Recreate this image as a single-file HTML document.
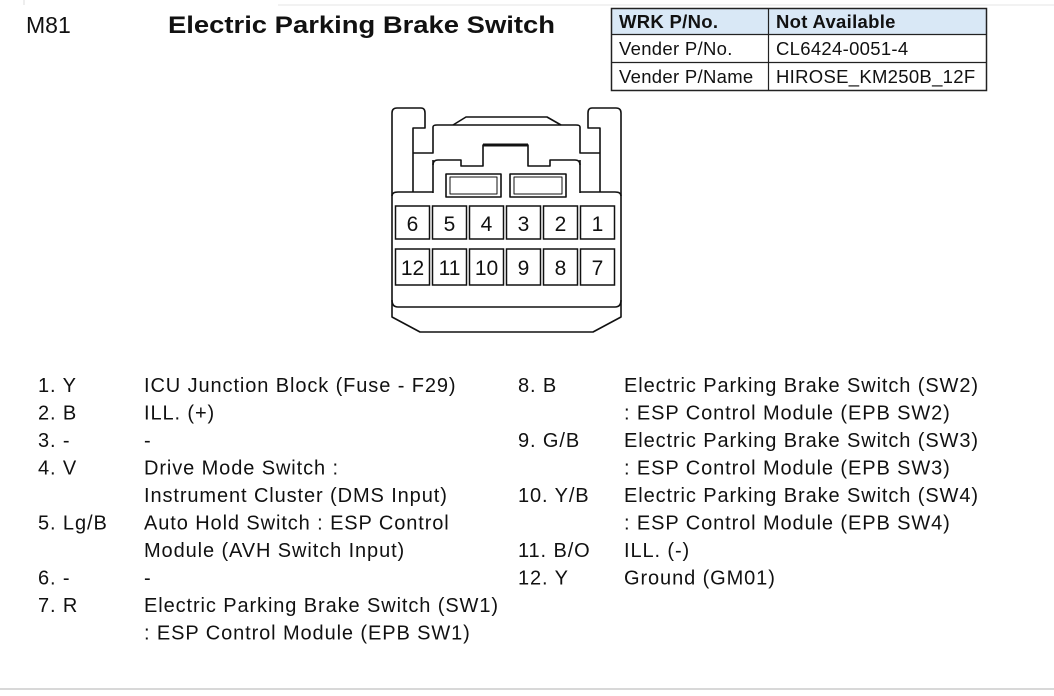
<!DOCTYPE html>
<html><head><meta charset="utf-8"><style>
html,body{margin:0;padding:0;background:#fff;}
svg{display:block;}
text{font-family:"Liberation Sans",Arial,sans-serif;fill:#111;}
</style></head><body>
<svg width="1054" height="696" viewBox="0 0 1054 696" xmlns="http://www.w3.org/2000/svg">
<rect width="1054" height="696" fill="#fff"/>
<line x1="24" y1="0" x2="24" y2="5" stroke="#ddd"/>
<line x1="278" y1="5" x2="1054" y2="5" stroke="#e4e4e4"/>
<text x="26" y="33" font-size="23">M81</text>
<text x="168" y="33" font-size="24" font-weight="bold" textLength="387" lengthAdjust="spacingAndGlyphs">Electric Parking Brake Switch</text>
<!-- table -->
<rect x="611.5" y="8.5" width="375" height="26" fill="#d9e8f6"/>
<rect x="611.5" y="8.5" width="375" height="82" fill="none" stroke="#222" stroke-width="1.5"/>
<line x1="611" y1="34.5" x2="987" y2="34.5" stroke="#222" stroke-width="1.2"/>
<line x1="611" y1="62.5" x2="987" y2="62.5" stroke="#222" stroke-width="1.2"/>
<line x1="768.5" y1="8" x2="768.5" y2="91" stroke="#222" stroke-width="1.2"/>
<g font-size="18.5" letter-spacing="0.3">
<text x="619" y="28" font-weight="bold">WRK P/No.</text>
<text x="776" y="28" font-weight="bold">Not Available</text>
<text x="619" y="55">Vender P/No.</text>
<text x="776" y="55">CL6424-0051-4</text>
<text x="619" y="83">Vender P/Name</text>
<text x="776" y="83">HIROSE_KM250B_12F</text>
</g>
<!-- connector -->
<g fill="none" stroke="#111" stroke-width="1.6" stroke-linejoin="round">
<path d="M392,300 L392,196 L392,113 Q392,108 397,108 L421,108 Q425,108 425,113 L425,128 L413,128 L413,192"/>
<path d="M621,300 L621,196 L621,113 Q621,108 616,108 L592,108 Q588,108 588,113 L588,128 L600,128 L600,192"/>
<path d="M392,196 Q392,192 398,192 L413,192"/>
<path d="M621,196 Q621,192 615,192 L600,192"/>
<path d="M413,153 L433,153 L433,127 Q433,125 437,125 L576,125 Q580,125 580,127 L580,153 L600,153"/>
<path d="M453,125 L466,117 L547,117 L561,125"/>
<path d="M433,160 L433,193 M580,160 L580,193"/>
<path d="M433,165 Q433,160 438,160 L461,160 L461,166 L483,166 L483,145 L528,145 L528,166 L550,166 L550,160 L575,160 Q580,160 580,165"/>
<line x1="483" y1="145" x2="528" y2="145" stroke-width="3"/>
<path d="M413,192 L433,192 M580,192 L600,192"/>
<rect x="446" y="174" width="55" height="23"/>
<rect x="450" y="177" width="47" height="17" stroke-width="1"/>
<rect x="510" y="174" width="56" height="23"/>
<rect x="514" y="177" width="48" height="17" stroke-width="1"/>
<path d="M392,300 Q392,307 398,307 L615,307 Q621,307 621,300"/>
<path d="M392,300 L392,317 L420,332 L593,332 L621,317 L621,300"/>
</g>
<g fill="none" stroke="#111" stroke-width="1.5">
<rect x="395.5" y="206" width="34" height="33"/><rect x="432.5" y="206" width="34" height="33"/><rect x="469.5" y="206" width="34" height="33"/><rect x="506.5" y="206" width="34" height="33"/><rect x="543.5" y="206" width="34" height="33"/><rect x="580.5" y="206" width="34" height="33"/>
<rect x="395.5" y="249" width="34" height="36"/><rect x="432.5" y="249" width="34" height="36"/><rect x="469.5" y="249" width="34" height="36"/><rect x="506.5" y="249" width="34" height="36"/><rect x="543.5" y="249" width="34" height="36"/><rect x="580.5" y="249" width="34" height="36"/>
</g>
<g font-size="21" text-anchor="middle">
<text x="412.5" y="231">6</text><text x="449.5" y="231">5</text><text x="486.5" y="231">4</text><text x="523.5" y="231">3</text><text x="560.5" y="231">2</text><text x="597.5" y="231">1</text>
<text x="412.5" y="275">12</text><text x="449.5" y="275">11</text><text x="486.5" y="275">10</text><text x="523.5" y="275">9</text><text x="560.5" y="275">8</text><text x="597.5" y="275">7</text>
</g>
<!-- list -->
<g font-size="20" letter-spacing="0.9">
<text x="38" y="392">1. Y</text><text x="144" y="392">ICU Junction Block (Fuse - F29)</text>
<text x="38" y="419.5">2. B</text><text x="144" y="419.5">ILL. (+)</text>
<text x="38" y="447">3. -</text><text x="144" y="447">-</text>
<text x="38" y="474.5">4. V</text><text x="144" y="474.5">Drive Mode Switch :</text>
<text x="144" y="502">Instrument Cluster (DMS Input)</text>
<text x="38" y="529.5">5. Lg/B</text><text x="144" y="529.5">Auto Hold Switch : ESP Control</text>
<text x="144" y="557">Module (AVH Switch Input)</text>
<text x="38" y="584.5">6. -</text><text x="144" y="584.5">-</text>
<text x="38" y="612">7. R</text><text x="144" y="612">Electric Parking Brake Switch (SW1)</text>
<text x="144" y="639.5">: ESP Control Module (EPB SW1)</text>

<text x="518" y="392">8. B</text><text x="624" y="392">Electric Parking Brake Switch (SW2)</text>
<text x="624" y="419.5">: ESP Control Module (EPB SW2)</text>
<text x="518" y="447">9. G/B</text><text x="624" y="447">Electric Parking Brake Switch (SW3)</text>
<text x="624" y="474.5">: ESP Control Module (EPB SW3)</text>
<text x="518" y="502">10. Y/B</text><text x="624" y="502">Electric Parking Brake Switch (SW4)</text>
<text x="624" y="529.5">: ESP Control Module (EPB SW4)</text>
<text x="518" y="557">11. B/O</text><text x="624" y="557">ILL. (-)</text>
<text x="518" y="584.5">12. Y</text><text x="624" y="584.5">Ground (GM01)</text>
</g>
<line x1="0" y1="689" x2="1054" y2="689" stroke="#d8d8d8" stroke-width="2"/>
</svg>
</body></html>
